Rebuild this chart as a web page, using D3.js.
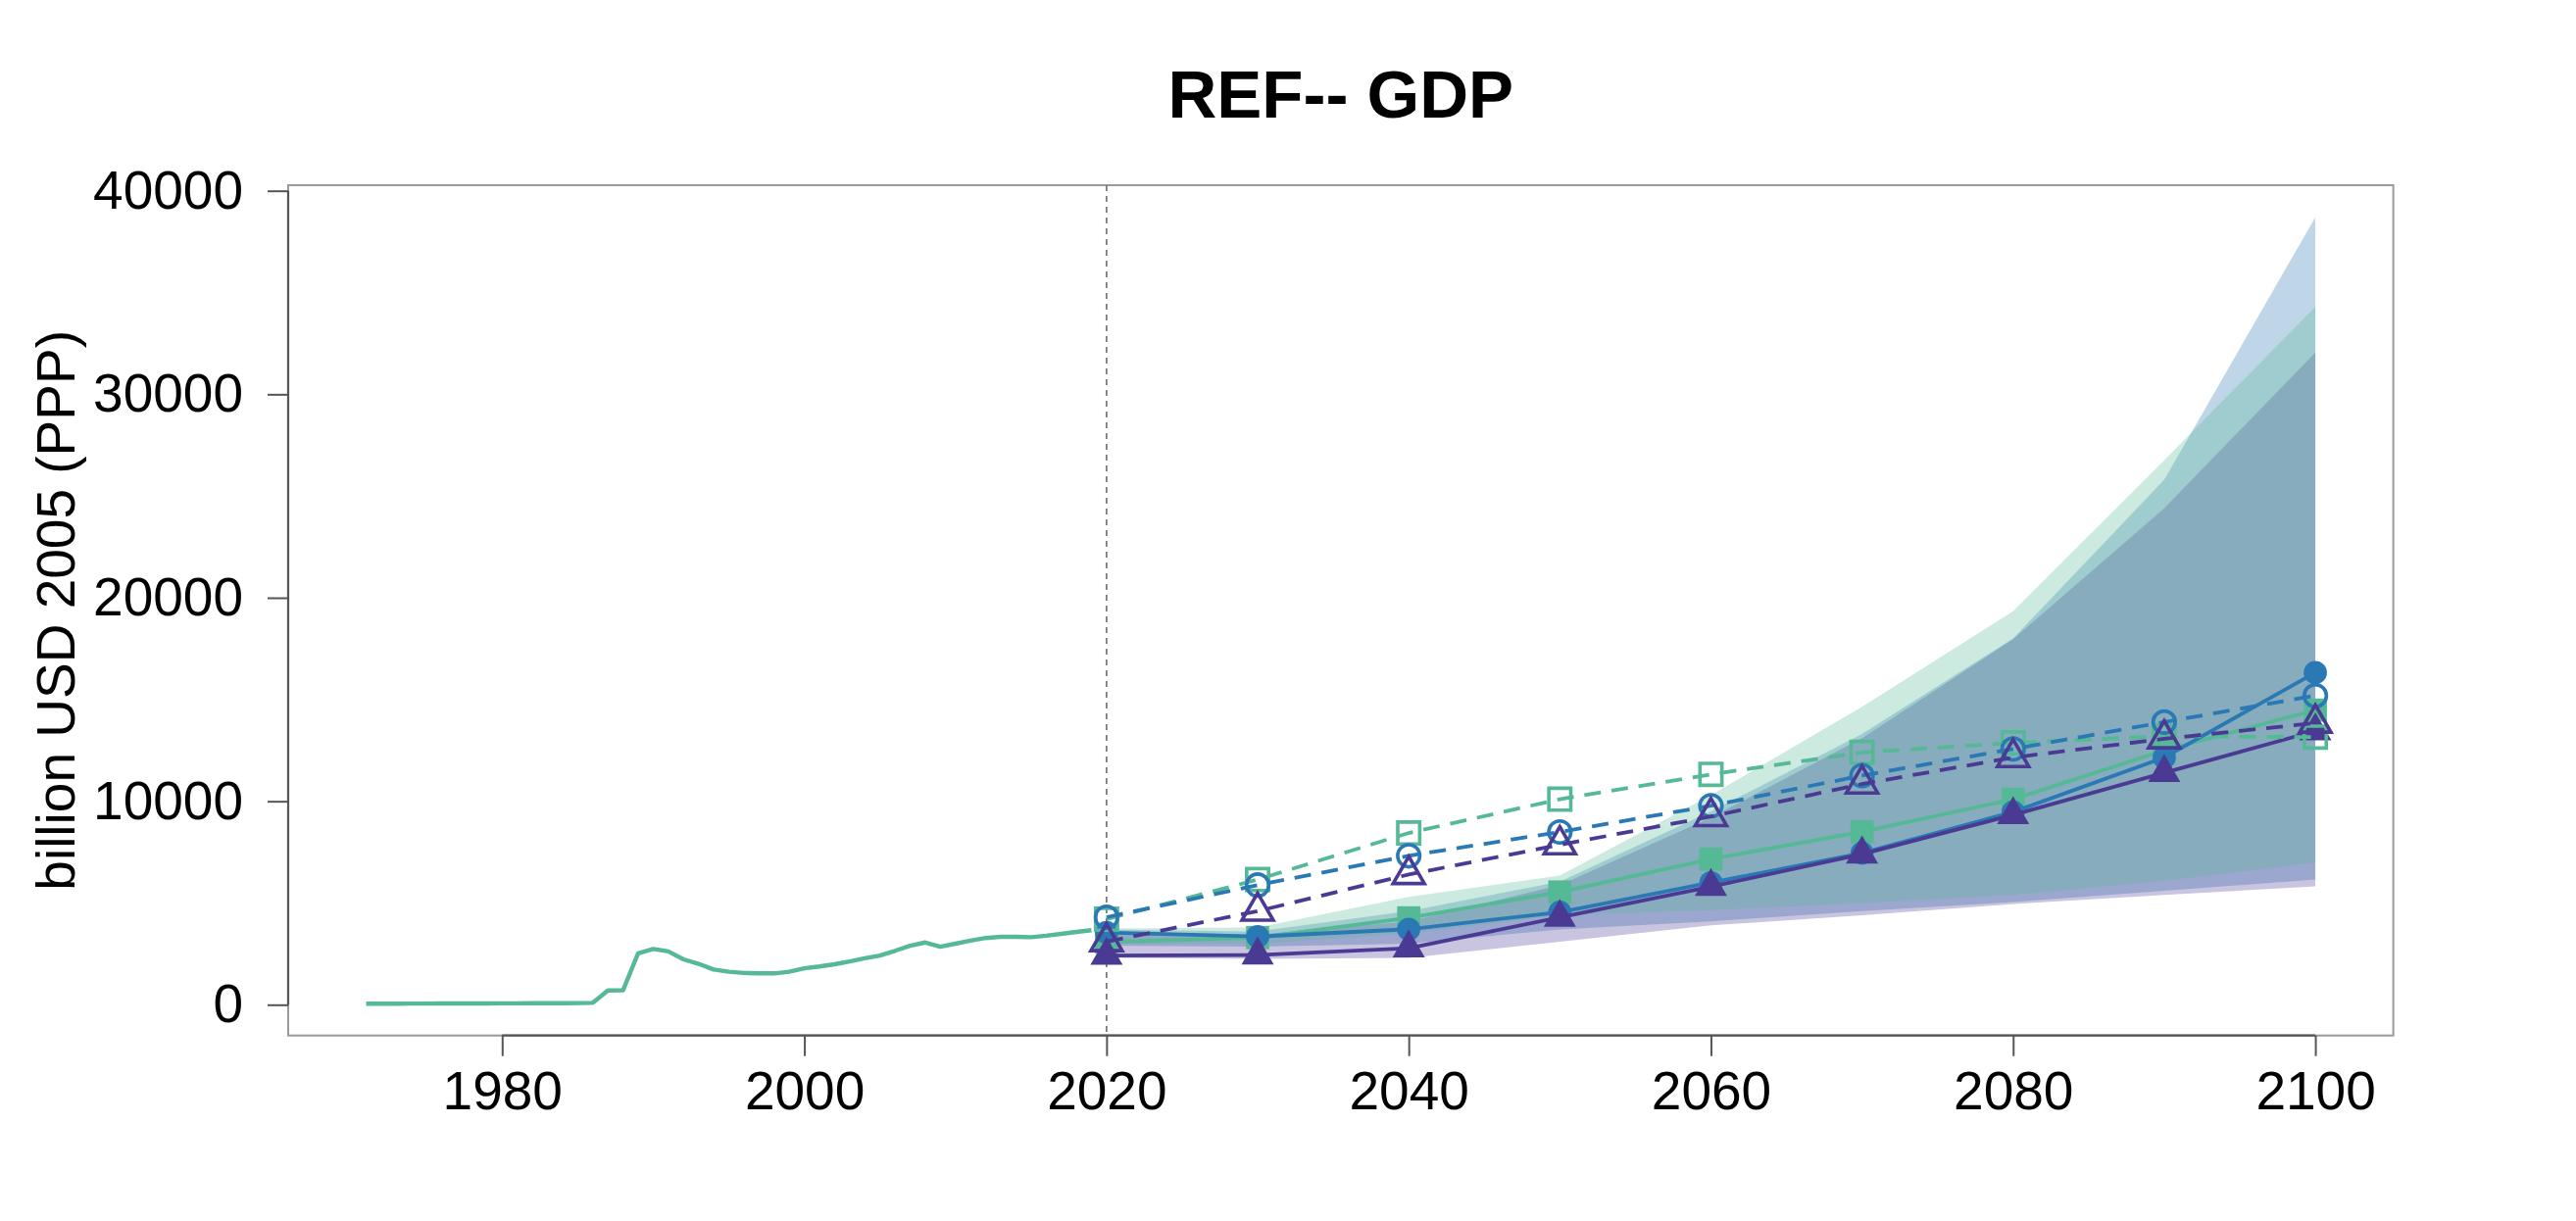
<!DOCTYPE html>
<html>
<head>
<meta charset="utf-8">
<title>REF-- GDP</title>
<script src="https://cdn.jsdelivr.net/npm/d3@7"></script>
<style>
	body { margin: 0; background: #fff; }
	text { font-family: "Liberation Sans", Arial, Helvetica, sans-serif; fill: #000; }
</style>
</head>
<body>
<div id="chart"></div>
<script>
"use strict";

// historique
var histYears = [1971, 1972, 1973, 1974, 1975, 1976, 1977, 1978, 1979, 1980,
	1981, 1982, 1983, 1984, 1985, 1986, 1987, 1988, 1989, 1990,
	1991, 1992, 1993, 1994, 1995, 1996, 1997, 1998, 1999, 2000,
	2001, 2002, 2003, 2004, 2005, 2006, 2007, 2008, 2009, 2010,
	2011, 2012, 2013, 2014, 2015, 2016, 2017, 2018, 2019];
var histGdp = [50, 52, 54, 56, 58, 60, 62, 64, 66, 68,
	70, 72, 75, 78, 82, 95, 700, 710, 2530, 2740,
	2620, 2230, 2010, 1730, 1620, 1560, 1545, 1540, 1620, 1790,
	1880, 1990, 2130, 2280, 2420, 2650, 2900, 3060, 2850, 3000,
	3150, 3280, 3340, 3340, 3320, 3390, 3480, 3580, 3660];

// projections
var projYears = [2020, 2030, 2040, 2050, 2060, 2070, 2080, 2090, 2100];

var greenSolid = [3080, 3300, 4270, 5540, 7160, 8500, 10100, 12500, 14480];
var blueSolid = [3550, 3350, 3710, 4550, 6000, 7450, 9470, 12150, 16320];
var purpleSolid = [2420, 2440, 2780, 4290, 5800, 7400, 9330, 11400, 13450];

var greenDash = [4200, 6150, 8440, 10100, 11320, 12400, 12870, 13200, 13150];
var blueDash = [4300, 5880, 7320, 8490, 9780, 11260, 12570, 13890, 15190];
var purpleDash = [3100, 4600, 6400, 7860, 9250, 10850, 12150, 13070, 13840];

// plages
var greenLo = [3000, 3000, 3500, 4400, 4650, 5000, 5400, 6100, 6980];
var greenHi = [3750, 3800, 5300, 6350, 10300, 14640, 19340, 26750, 34300];
var blueLo = [2900, 2850, 3000, 3700, 4100, 4600, 5050, 5600, 6150];
var blueHi = [3700, 3600, 4600, 6050, 9500, 13300, 18000, 25800, 38700];
var purpleLo = [2300, 2250, 2300, 3100, 3900, 4400, 4950, 5400, 5820];
var purpleHi = [3600, 3450, 4100, 5875, 9200, 13100, 17960, 24400, 32050];

// axes
var xTicks = [1980, 2000, 2020, 2040, 2060, 2080, 2100];
var yTicks = [0, 10000, 20000, 30000, 40000];
var baseYear = 2020;

var W = 2628, H = 1246;
var box = { left: 294, right: 2441.6, top: 189, bottom: 1056.7 };

var x = d3.scaleLinear().domain([1965.84, 2105.16]).range([box.left, box.right]);
var y = d3.scaleLinear().domain([-1512, 40274]).range([box.bottom, box.top]);

var models = [
	{ col: "#55b996", lo: greenLo, hi: greenHi, solid: greenSolid, dash: greenDash, sym: d3.symbolSquare, fill: 560, open: 500 },
	{ col: "#2a78b4", lo: blueLo, hi: blueHi, solid: blueSolid, dash: blueDash, sym: d3.symbolCircle, fill: 440, open: 400 },
	{ col: "#4b3a94", lo: purpleLo, hi: purpleHi, solid: purpleSolid, dash: purpleDash, sym: d3.symbolTriangle, fill: 470, open: 440 }
];

var svg = d3.select("#chart").append("svg")
	.attr("width", W)
	.attr("height", H)
	.attr("viewBox", "0 0 " + W + " " + H)
	.attr("xmlns", "http://www.w3.org/2000/svg");

svg.append("rect")
	.attr("width", W)
	.attr("height", H)
	.attr("fill", "#fff");

// plages : bleu, violet, vert (ordre des superpositions)
var area = d3.area()
	.x(d => x(d.t))
	.y0(d => y(d.lo))
	.y1(d => y(d.hi));

[1, 2, 0].forEach(function (i) {
	var m = models[i];
	svg.append("path")
		.datum(projYears.map((t, k) => ({ t: t, lo: m.lo[k], hi: m.hi[k] })))
		.attr("d", area)
		.attr("fill", m.col)
		.attr("fill-opacity", 0.3);
});

// cadre
svg.append("rect")
	.attr("x", box.left)
	.attr("y", box.top)
	.attr("width", box.right - box.left)
	.attr("height", box.bottom - box.top)
	.attr("fill", "none")
	.attr("stroke", "#9a9a9a")
	.attr("stroke-width", 2);

// repère 2020
svg.append("line")
	.attr("x1", x(baseYear))
	.attr("x2", x(baseYear))
	.attr("y1", box.top)
	.attr("y2", box.bottom)
	.attr("stroke", "#7a7a7a")
	.attr("stroke-width", 1.8)
	.attr("stroke-dasharray", "6,5");

// historique
var line = d3.line()
	.x(d => x(d[0]))
	.y(d => y(d[1]));

svg.append("path")
	.datum(histYears.map((t, k) => [t, histGdp[k]]))
	.attr("d", line)
	.attr("fill", "none")
	.attr("stroke", "#55b996")
	.attr("stroke-width", 4.4)
	.attr("stroke-linejoin", "round");

// scénarios : plein d'abord, puis tirets
function drawSeries(key, dashed) {
	models.forEach(function (m) {
		var pts = projYears.map((t, k) => [t, m[key][k]]);
		svg.append("path")
			.datum(pts)
			.attr("d", line)
			.attr("fill", "none")
			.attr("stroke", m.col)
			.attr("stroke-width", 3.8)
			.attr("stroke-dasharray", dashed ? "17,11" : null);
		svg.append("g")
			.selectAll("path")
			.data(pts)
			.enter()
				.append("path")
				.attr("transform", d => "translate(" + x(d[0]) + "," + y(d[1]) + ")")
				.attr("d", d3.symbol().type(m.sym).size(dashed ? m.open : m.fill))
				.attr("fill", dashed ? "none" : m.col)
				.attr("stroke", dashed ? m.col : "none")
				.attr("stroke-width", 3.6);
	});
}
drawSeries("solid", false);
drawSeries("dash", true);

// axe Y
var gy = svg.append("g")
	.attr("transform", "translate(" + box.left + ",0)")
	.call(d3.axisLeft(y).tickValues(yTicks).tickSize(21).tickPadding(25).tickFormat(d3.format("d")));
gy.select(".domain").remove();
gy.selectAll(".tick line").attr("stroke", "#555").attr("stroke-width", 2);
gy.selectAll(".tick text").attr("font-size", 55).attr("fill", "#000");
svg.append("line")
	.attr("x1", box.left).attr("x2", box.left)
	.attr("y1", y(yTicks[0])).attr("y2", y(yTicks[yTicks.length - 1]))
	.attr("stroke", "#555").attr("stroke-width", 2.2);

// axe X
var gx = svg.append("g")
	.attr("transform", "translate(0," + box.bottom + ")")
	.call(d3.axisBottom(x).tickValues(xTicks).tickSize(21).tickPadding(15).tickFormat(d3.format("d")));
gx.select(".domain").remove();
gx.selectAll(".tick line").attr("stroke", "#555").attr("stroke-width", 2);
gx.selectAll(".tick text").attr("font-size", 55).attr("fill", "#000");
svg.append("line")
	.attr("x1", x(xTicks[0])).attr("x2", x(xTicks[xTicks.length - 1]))
	.attr("y1", box.bottom).attr("y2", box.bottom)
	.attr("stroke", "#555").attr("stroke-width", 2.2);

// titres
svg.append("text")
	.attr("x", (box.left + box.right) / 2)
	.attr("y", 120)
	.attr("text-anchor", "middle")
	.attr("font-size", 69)
	.attr("font-weight", "bold")
	.text("REF-- GDP");

svg.append("text")
	.attr("transform", "translate(76," + (box.top + box.bottom) / 2 + ") rotate(-90)")
	.attr("text-anchor", "middle")
	.attr("font-size", 55)
	.text("billion USD 2005 (PPP)");
</script>
</body>
</html>
